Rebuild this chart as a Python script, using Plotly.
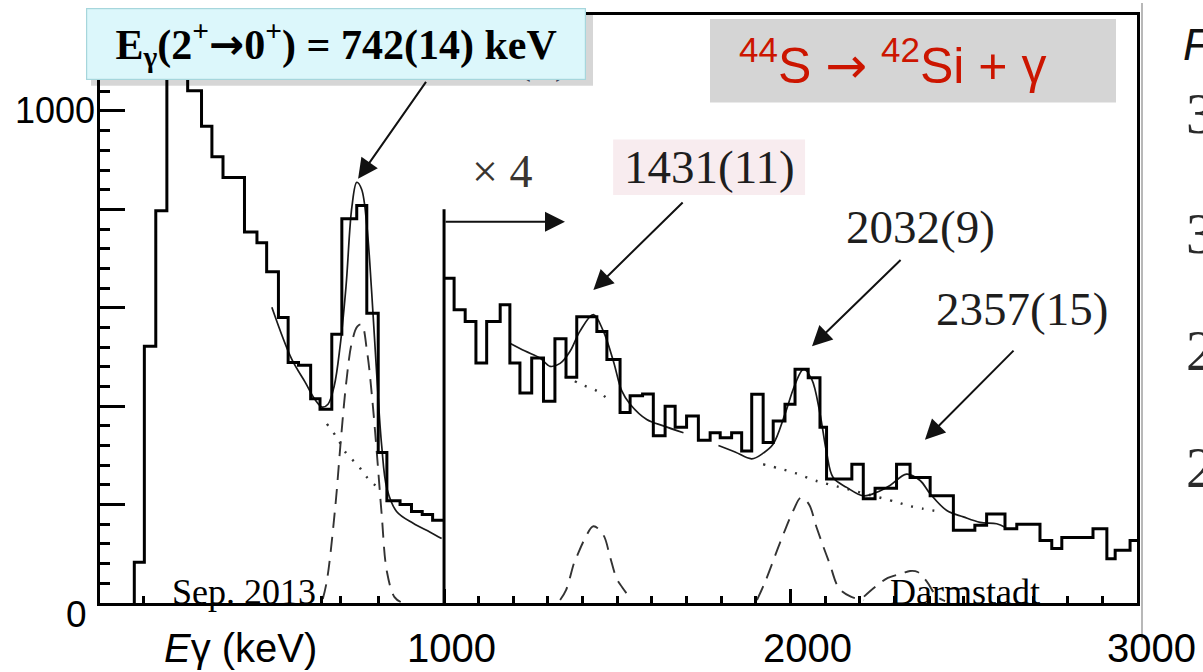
import plotly.graph_objects as go

# ---------------- data ----------------
# Left part: full-scale spectrum (bin edges in keV, counts per bin)
left_edges = [106, 135, 168, 200, 260, 300, 330, 362, 424, 460, 488, 522, 550, 580,
              615, 642, 676, 705, 748, 777, 810, 835, 873, 906, 937, 967, 1000]
left_counts = [83, 522, 797, 1160, 1041, 969, 907, 865, 754, 732, 673, 580, 489, 483,
               415, 394, 546, 781, 808, 589, 306, 208, 200, 186, 180, 168]

# Right part: spectrum magnified x4
right_edges = [1000, 1029, 1061, 1092, 1123, 1162, 1190, 1219, 1253, 1287, 1320, 1352,
               1383, 1441, 1470, 1508, 1537, 1573, 1604, 1638, 1667, 1700, 1734, 1768,
               1797, 1830, 1859, 1888, 1921, 1950, 1984, 2013, 2051, 2085, 2104, 2177,
               2210, 2244, 2306, 2345, 2403, 2470, 2532, 2566, 2619, 2653, 2720, 2754,
               2783, 2873, 2913, 2937, 2980, 3000]
right_counts = [660, 596, 572, 488, 572, 606, 488, 427, 498, 410, 537, 459, 582, 552,
                495, 387, 421, 425, 340, 400, 357, 380, 331, 346, 336, 346, 309, 424,
                326, 370, 404, 475, 458, 357, 252, 282, 212, 233, 282, 255, 218, 148,
                158, 181, 151, 160, 127, 111, 133, 151, 90, 107, 127]

# Fit curves (total fit, solid)
left_fit_E = [503, 560, 599, 628, 648, 665, 683, 700, 717, 734, 748, 762, 777, 791,
              806, 820, 835, 863, 911, 960, 993]
left_fit_C = [601, 496, 449, 413, 398, 404, 441, 522, 643, 805, 855, 841, 768, 633,
              461, 320, 233, 186, 162, 144, 131]
fitA_E = [1190, 1234, 1277, 1306, 1335, 1364, 1392, 1431, 1460, 1489, 1513, 1537,
          1585, 1633, 1691]
fitA_C = [528, 512, 498, 481, 487, 512, 552, 586, 552, 491, 431, 404, 373, 360, 346]
fitB_E = [1792, 1840, 1888, 1922, 1950, 1984, 2013, 2037, 2061, 2085, 2104, 2123,
          2162, 2210, 2249, 2287, 2335, 2374, 2403, 2451, 2499, 2547, 2595, 2619]
fitB_C = [320, 307, 293, 305, 323, 384, 444, 475, 455, 385, 306, 255, 235, 218, 225,
          239, 262, 249, 222, 188, 175, 164, 161, 154]

# Peak components (dashed)
g742_E = [650, 662, 686, 702, 718, 734, 750, 762, 778, 792, 806, 820, 835, 857, 875]
g742_C = [8, 46, 195, 330, 450, 530, 562, 566, 510, 420, 305, 180, 64, 12, 2]
g1431_E = [1335, 1352, 1375, 1383, 1408, 1431, 1460, 1479, 1498, 1513, 1537]
g1431_C = [6, 26, 81, 94, 133, 156, 138, 94, 50, 33, 10]
g2032_E = [1903, 1925, 1969, 2008, 2030, 2052, 2075, 2095, 2113, 2140, 2174, 2212]
g2032_C = [6, 40, 121, 188, 214, 202, 154, 114, 80, 30, 13, 6]
g2357_E = [2212, 2245, 2281, 2322, 2345, 2367, 2394, 2422, 2446]
g2357_C = [13, 33, 51, 60, 65, 63, 43, 13, 4]

# Backgrounds (dotted)
bg_left_E = [662, 691, 717, 752, 778, 812]
bg_left_C = [364, 336, 305, 279, 255, 233]
bgA_E = [1349, 1397, 1441, 1473]
bgA_C = [461, 444, 431, 414]
bgB_E = [1921, 1975, 2022, 2066, 2091, 2306, 2339, 2379, 2436]
bgB_C = [282, 272, 262, 250, 245, 205, 198, 192, 185]

# Split marker (x4 region) and labels
split_E = 1000
split_top = 800
peak_labels = ["1431(11)", "2032(9)", "2357(15)"]
x_tick_vals = [1000, 2000, 3000]
x_tick_text = ["1000", "2000", "3000"]
x_minor_vals = [133, 645, 702, 812] + [e for e in range(1100, 3000, 100) if e != 2000]
y_major_vals = [0, 200, 400, 600, 800, 1000]
y_tick_vals = [1000, 0]
y_tick_text = ["1000", "0"]
right_edge_text = ["F", "3", "3", "2", "2"]

# ---------------- figure ----------------
fig = go.Figure()

DASH = "15px,9px"
DOT = "2px,9px"


def add_line(x, y, width, dash=None, shape="spline", color="#1a1a1a"):
    fig.add_trace(go.Scatter(x=x, y=y, mode="lines",
                             line=dict(color=color, width=width, dash=dash, shape=shape),
                             hoverinfo="skip", showlegend=False))


# dashed peak components
for ex, cy in [(g742_E, g742_C), (g1431_E, g1431_C), (g2032_E, g2032_C), (g2357_E, g2357_C)]:
    add_line(ex, cy, 1.9, dash=DASH, color="#333333")
# dotted backgrounds
for ex, cy in [(bg_left_E, bg_left_C), (bgA_E, bgA_C), (bgB_E, bgB_C)]:
    add_line(ex, cy, 2.4, dash=DOT, color="#333333")
# fits
for ex, cy in [(left_fit_E, left_fit_C), (fitA_E, fitA_C), (fitB_E, fitB_C)]:
    add_line(ex, cy, 1.7, color="#1a1a1a")

# histograms
lx = [left_edges[0]] + left_edges
ly = [0] + left_counts + [left_counts[-1]]
add_line(lx, ly, 3, shape="hv", color="black")
rx = right_edges
ry = right_counts + [right_counts[-1]]
add_line(rx, ry, 3, shape="hv", color="black")
# split line
add_line([split_E, split_E], [0, split_top], 3, shape="linear", color="black")


def px_x(p):
    return (p - 100) / 1037.0


def px_y(p):
    return (603 - p) / 591.0


shapes = [
    # shadow of the cyan label box
    dict(type="rect", xref="paper", yref="paper", x0=px_x(91), x1=px_x(593),
         y0=px_y(83), y1=px_y(9), fillcolor="rgba(0,0,0,0.16)", line=dict(width=0),
         layer="above"),
    # grey box behind reaction text
    dict(type="rect", xref="paper", yref="paper", x0=px_x(710), x1=px_x(1116),
         y0=px_y(100), y1=px_y(16), fillcolor="#d5d5d5", line=dict(width=0),
         layer="above"),
    # pink highlight behind 1431(11)
    dict(type="rect", xref="x", yref="y", x0=1488, x1=2042, y0=829, y1=942,
         fillcolor="#f8ecef", line=dict(width=0), layer="below"),
    # grey edge of the pasted image
    dict(type="line", xref="paper", yref="paper", x0=px_x(1142), x1=px_x(1142),
         y0=px_y(640), y1=px_y(0), line=dict(color="#a0a0a0", width=1.5), layer="above"),
]

SERIF = "Liberation Serif, Times New Roman, serif"
SANS = "Liberation Sans, Arial, Helvetica, sans-serif"
ARROW = "<span style=\"font-family:'DejaVu Sans'\">→</span>"

ann = []
# remnant of an older label, mostly hidden by the cyan box
ann.append(dict(xref="paper", yref="paper", x=px_x(572), y=px_y(53), xanchor="right",
                yanchor="middle", text="742(8)", showarrow=False,
                font=dict(family=SERIF, size=47, color="#3a4660")))
# cyan title box
ann.append(dict(xref="paper", yref="paper", x=px_x(336), y=px_y(41.5), xanchor="center",
                yanchor="middle", showarrow=False,
                text="<b>E<sub>γ</sub>(2<sup>+</sup>" + ARROW + "0<sup>+</sup>) = 742(14) keV</b>",
                font=dict(family=SERIF, size=42, color="black"),
                bgcolor="#dcf7fb", bordercolor="#a6d6dc", borderwidth=1.2, borderpad=1,
                width=496, height=68))
# reaction text
ann.append(dict(xref="paper", yref="paper", x=px_x(892), y=px_y(60), xanchor="center",
                yanchor="middle", showarrow=False,
                text="<sup>44</sup>S " + ARROW + " <sup>42</sup>Si + γ",
                font=dict(family=SANS, size=50, color="#cc1500")))
# x4 label
ann.append(dict(xref="x", yref="y", x=1168, y=876, text="× 4", showarrow=False,
                font=dict(family=SERIF, size=46, color="#3a3530")))
# peak labels
label_pos = [(1765, 886), (2374, 764), (2668, 597)]
for t, (lxp, lyp) in zip(peak_labels, label_pos):
    ann.append(dict(xref="x", yref="y", x=lxp, y=lyp, text=t, showarrow=False,
                    font=dict(family=SERIF, size=47, color="#1e1e1e")))
# arrows (head x,y ; tail ax,ay)
arrows = [(752, 862, 951, 1062), (1349, 775, 1000, 775), (1431, 636, 1693, 817),
          (2062, 522, 2322, 700), (2388, 332, 2648, 516)]
for hx, hy, tx, ty in arrows:
    ann.append(dict(xref="x", yref="y", axref="x", ayref="y", x=hx, y=hy, ax=tx, ay=ty,
                    text="", showarrow=True, arrowhead=2, arrowsize=2.0, arrowwidth=2,
                    arrowcolor="#111111", standoff=0, startstandoff=0))
# date / place stamps
ann.append(dict(xref="x", yref="y", x=423, y=22, text="Sep. 2013", showarrow=False,
                font=dict(family=SERIF, size=36, color="black")))
ann.append(dict(xref="x", yref="y", x=2504, y=22, text="Darmstadt", showarrow=False,
                font=dict(family=SERIF, size=36, color="black")))
# axis tick labels
x_shifts = [7, 17, 14]
for v, t, s in zip(x_tick_vals, x_tick_text, x_shifts):
    ann.append(dict(xref="x", yref="paper", x=v, y=px_y(648), xshift=s, text=t,
                    showarrow=False, xanchor="center", yanchor="middle",
                    font=dict(family=SANS, size=40, color="black")))
ann.append(dict(xref="paper", yref="paper", x=px_x(240), y=px_y(648),
                text="<i>E</i>γ (keV)", showarrow=False, xanchor="center", yanchor="middle",
                font=dict(family=SANS, size=40, color="black")))
ann.append(dict(xref="paper", yref="y", x=px_x(97), y=y_tick_vals[0], text=y_tick_text[0],
                showarrow=False, xanchor="right", yanchor="middle",
                font=dict(family=SANS, size=36, color="black")))
ann.append(dict(xref="paper", yref="y", x=px_x(76), y=y_tick_vals[1], yshift=-11,
                text=y_tick_text[1], showarrow=False, xanchor="center", yanchor="middle",
                font=dict(family=SANS, size=37, color="black")))
# clipped text from the neighbouring slide
edge_pos = [42, 112, 232, 350, 467]
for i, (t, py) in enumerate(zip(right_edge_text, edge_pos)):
    if i == 0:
        f = dict(family=SANS, size=44, color="#111111")
        txt = "<i>" + t + "</i>"
        xp = 1181
    else:
        f = dict(family=SERIF, size=56, color="#2a2a2a")
        txt = t
        xp = 1184
    ann.append(dict(xref="paper", yref="paper", x=px_x(xp), y=px_y(py), text=txt,
                    showarrow=False, xanchor="left", yanchor="middle", font=f))

fig.update_layout(
    width=1203, height=672, autosize=False,
    margin=dict(l=100, r=66, t=12, b=69, pad=0),
    paper_bgcolor="white", plot_bgcolor="white",
    showlegend=False,
    shapes=shapes, annotations=ann,
    xaxis=dict(range=[7, 3000], showline=True, linewidth=3, linecolor="black", mirror=True,
               showgrid=False, zeroline=False, ticks="inside", tickmode="array",
               tickvals=x_tick_vals, ticklen=14, tickwidth=3, tickcolor="black",
               showticklabels=False,
               minor=dict(ticks="inside", tickmode="array", tickvals=x_minor_vals,
                          ticklen=7, tickwidth=2.5, tickcolor="black", showgrid=False)),
    yaxis=dict(range=[0, 1195], showline=True, linewidth=3, linecolor="black", mirror=True,
               showgrid=False, zeroline=False, ticks="inside", tickmode="array",
               tickvals=y_major_vals, ticklen=25, tickwidth=3, tickcolor="black",
               showticklabels=False,
               minor=dict(ticks="inside", dtick=40, tick0=0, ticklen=10, tickwidth=2.5,
                          tickcolor="black", showgrid=False)),
)

fig.write_html("out.html")
